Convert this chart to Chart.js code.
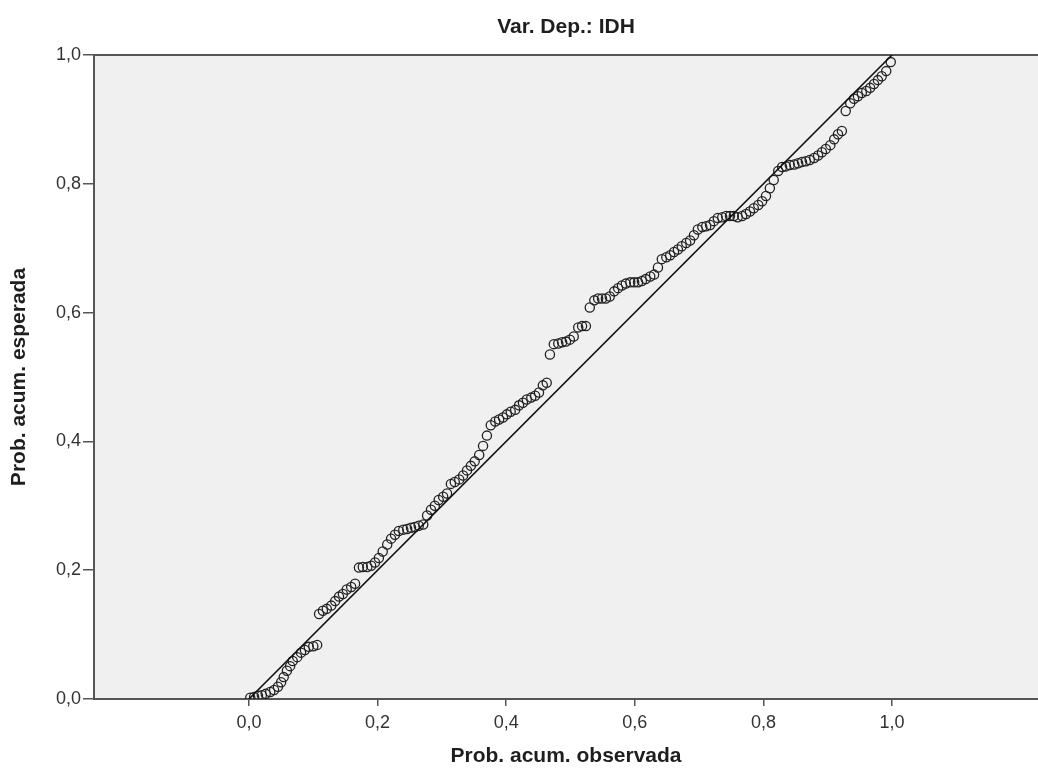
<!DOCTYPE html>
<html>
<head>
<meta charset="utf-8">
<script src="https://cdn.jsdelivr.net/npm/chart.js@4.4.1/dist/chart.umd.min.js"></script>
<style>
  html, body { margin: 0; padding: 0; background: #ffffff; }
  canvas { display: block; }
</style>
</head>
<body>
<canvas id="pp-chart" width="1038" height="769"></canvas>
<script>
// Prob. acum. observada (eje X) y Prob. acum. esperada (eje Y)
const obsProb = [
  0.002, 0.008, 0.014, 0.020, 0.026, 0.033, 0.039, 0.045, 0.050, 0.054,
  0.059, 0.064, 0.068, 0.075, 0.081, 0.087, 0.093, 0.100, 0.106,
  0.109, 0.115, 0.121, 0.128, 0.134, 0.140, 0.146, 0.152, 0.159, 0.165,
  0.171, 0.177, 0.184, 0.190, 0.196, 0.202, 0.208, 0.215, 0.221, 0.227,
  0.233, 0.240, 0.246, 0.252, 0.258, 0.264, 0.271, 0.277, 0.283, 0.289,
  0.295, 0.302, 0.308, 0.314, 0.320, 0.327, 0.333, 0.339, 0.345, 0.351,
  0.358, 0.364, 0.370, 0.376, 0.383, 0.389, 0.395, 0.401, 0.407, 0.414,
  0.420, 0.426, 0.432, 0.439, 0.445, 0.451, 0.457, 0.463,
  0.468, 0.474, 0.481, 0.487, 0.493, 0.499, 0.505, 0.512, 0.518, 0.524,
  0.530, 0.537, 0.543, 0.549, 0.555, 0.561, 0.568, 0.574, 0.580, 0.586,
  0.593, 0.599, 0.605, 0.611, 0.617, 0.624, 0.630, 0.636, 0.642, 0.649,
  0.655, 0.661, 0.667, 0.673, 0.680, 0.686, 0.692, 0.698, 0.705, 0.711,
  0.717, 0.723, 0.729, 0.736, 0.742, 0.748, 0.754, 0.760, 0.767, 0.773,
  0.779, 0.785, 0.792, 0.798, 0.804, 0.810, 0.816, 0.823, 0.829, 0.835,
  0.841, 0.848, 0.854, 0.860, 0.866, 0.872, 0.879, 0.885, 0.891, 0.897,
  0.904, 0.910, 0.916, 0.922,
  0.928, 0.935, 0.941, 0.947, 0.953, 0.960, 0.966, 0.972, 0.978, 0.984,
  0.991, 0.998
];
const espProb = [
  0.002, 0.003, 0.005, 0.006, 0.008, 0.011, 0.014, 0.019, 0.026, 0.034,
  0.044, 0.051, 0.059, 0.065, 0.072, 0.076, 0.081, 0.082, 0.084,
  0.132, 0.137, 0.140, 0.145, 0.152, 0.159, 0.163, 0.170, 0.174, 0.179,
  0.204, 0.205, 0.205, 0.207, 0.212, 0.219, 0.229, 0.240, 0.249, 0.255,
  0.261, 0.263, 0.264, 0.266, 0.267, 0.269, 0.271, 0.285, 0.294, 0.300,
  0.309, 0.314, 0.319, 0.334, 0.337, 0.341, 0.347, 0.355, 0.362, 0.369,
  0.379, 0.393, 0.409, 0.425, 0.431, 0.434, 0.437, 0.442, 0.446, 0.449,
  0.456, 0.460, 0.465, 0.468, 0.471, 0.476, 0.487, 0.491,
  0.535, 0.551, 0.552, 0.554, 0.555, 0.558, 0.563, 0.577, 0.579, 0.579,
  0.608, 0.619, 0.622, 0.622, 0.622, 0.625, 0.633, 0.638, 0.642, 0.645,
  0.647, 0.647, 0.647, 0.649, 0.652, 0.656, 0.659, 0.670, 0.683, 0.686,
  0.689, 0.694, 0.698, 0.703, 0.708, 0.712, 0.720, 0.729, 0.733, 0.734,
  0.736, 0.742, 0.747, 0.748, 0.750, 0.750, 0.750, 0.748, 0.750, 0.753,
  0.757, 0.762, 0.767, 0.773, 0.781, 0.793, 0.806, 0.820, 0.826, 0.827,
  0.829, 0.830, 0.832, 0.834, 0.835, 0.837, 0.840, 0.844, 0.849, 0.854,
  0.860, 0.869, 0.877, 0.882,
  0.913, 0.925, 0.932, 0.936, 0.941, 0.944, 0.949, 0.955, 0.961, 0.967,
  0.975, 0.989
];
// Recta de referencia
const refX = [0, 1];
const refY = [0, 1];
const tickVals = [0, 0.2, 0.4, 0.6, 0.8, 1.0];

const titleText = 'Var. Dep.: IDH';
const xTitle = 'Prob. acum. observada';
const yTitle = 'Prob. acum. esperada';

const fmt = v => v.toFixed(1).replace('.', ',');
const axisColor = '#555555';
const textColor = '#1e1e1e';
const fontFamily = 'Liberation Sans, Arial, sans-serif';

const plotBg = {
  id: 'plotBg',
  beforeDraw(chart) {
    const { ctx, chartArea: a } = chart;
    ctx.save();
    ctx.fillStyle = '#f0f0f0';
    ctx.fillRect(a.left, a.top, a.right - a.left, a.bottom - a.top);
    ctx.restore();
  }
};

function noPad(s) {
  s.paddingLeft = 0;
  s.paddingRight = 0;
  s.paddingTop = 0;
  s.paddingBottom = 0;
}

const ctx = document.getElementById('pp-chart').getContext('2d');
const chart = new Chart(ctx, {
  type: 'scatter',
  data: {
    datasets: [
      {
        label: 'Observados',
        data: obsProb.map((x, i) => ({ x: x, y: espProb[i] })),
        pointStyle: 'circle',
        pointRadius: 4.6,
        pointBorderWidth: 1.3,
        pointBorderColor: '#222222',
        pointBackgroundColor: 'rgba(0,0,0,0)',
        order: 2
      },
      {
        type: 'line',
        label: 'Referencia',
        data: refX.map((x, i) => ({ x: x, y: refY[i] })),
        borderColor: '#111111',
        borderWidth: 1.6,
        pointRadius: 0,
        fill: false,
        order: 1
      }
    ]
  },
  options: {
    responsive: false,
    animation: false,
    devicePixelRatio: 1,
    layout: { padding: 0, autoPadding: false },
    plugins: {
      legend: { display: false },
      tooltip: { enabled: false },
      title: { display: false }
    },
    scales: {
      x: {
        type: 'linear',
        position: 'bottom',
        min: -0.241,
        max: 1.227,
        afterBuildTicks: s => { s.ticks = tickVals.map(v => ({ value: v })); },
        afterFit: s => { s.height = 70; noPad(s); },
        ticks: {
          callback: v => fmt(v),
          color: '#333333',
          font: { family: fontFamily, size: 18 },
          padding: 6,
          maxRotation: 0,
          autoSkip: false
        },
        grid: { drawOnChartArea: false, color: axisColor, tickLength: 7, lineWidth: 1.5 },
        border: { display: true, color: axisColor, width: 2 },
        title: {
          display: true,
          text: xTitle,
          color: textColor,
          font: { family: fontFamily, size: 21, weight: 'bold' },
          padding: { top: 0, bottom: 0 }
        }
      },
      x2: {
        type: 'linear',
        position: 'top',
        min: -0.241,
        max: 1.227,
        afterFit: s => { s.height = 55; noPad(s); },
        ticks: { display: false },
        grid: { drawOnChartArea: false, drawTicks: false, tickLength: 0 },
        border: { display: true, color: axisColor, width: 2 },
        title: {
          display: true,
          text: titleText,
          color: textColor,
          font: { family: fontFamily, size: 21, weight: 'bold' },
          padding: { top: 15, bottom: 0 }
        }
      },
      y: {
        type: 'linear',
        position: 'left',
        min: 0,
        max: 1,
        afterBuildTicks: s => { s.ticks = tickVals.map(v => ({ value: v })); },
        afterFit: s => { s.width = 94; noPad(s); },
        ticks: {
          callback: v => fmt(v),
          color: '#333333',
          font: { family: fontFamily, size: 18 },
          padding: 2
        },
        grid: { drawOnChartArea: false, color: axisColor, tickLength: 11, lineWidth: 1.5 },
        border: { display: true, color: axisColor, width: 2 },
        title: {
          display: true,
          text: yTitle,
          color: textColor,
          font: { family: fontFamily, size: 21, weight: 'bold' },
          padding: { top: 7, bottom: 0 }
        }
      }
    }
  },
  plugins: [plotBg]
});
</script>
</body>
</html>
